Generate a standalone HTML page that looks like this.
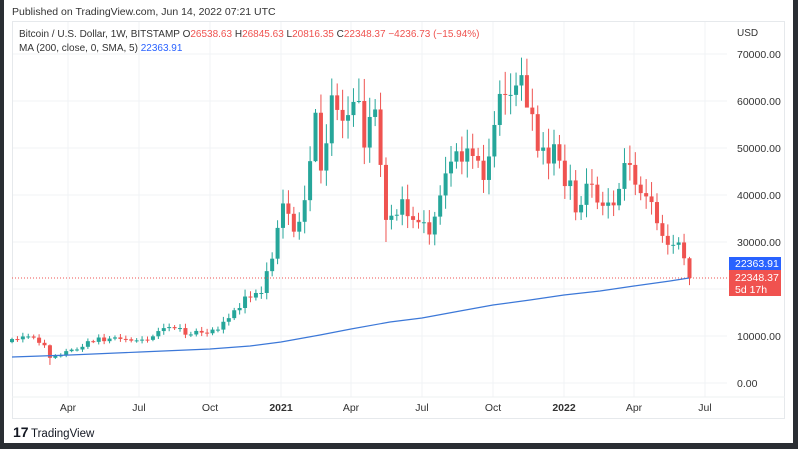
<!DOCTYPE html>
<html><head><meta charset="utf-8"><style>
html,body{margin:0;padding:0;background:#2a2e33;}
#w{position:absolute;left:4px;top:0;width:789px;height:443px;background:#fff;}
svg{position:absolute;left:0;top:0}
text{font-family:"Liberation Sans",sans-serif;}
</style></head><body>
<div id="w"></div>
<svg id="s" width="798" height="449" xmlns="http://www.w3.org/2000/svg"></svg>
<script>
var C=[9350,9300,9900,9900,9650,8550,8030,5360,5830,5880,6780,7100,7130,7700,8900,8750,9680,8900,9450,9700,9380,9300,9010,9070,9230,9180,9930,11050,11680,11900,11650,11690,10280,10330,11080,10720,10580,11360,11360,13030,13800,15480,15960,18400,18180,19150,19150,23800,26450,33000,
38200,36000,32200,34300,38900,47200,57500,45200,51000,61200,58100,55800,57000,59800,60000,50100,56600,58200,46400,34700,35600,35800,39100,35500,34700,34200,34200,31600,35400,39900,44600,47100,49300,47100,49900,48300,47300,43200,48200,54900,61500,61300,61300,63300,65500,58600,57200,49400,50100,46700,50800,47300,
41900,43100,36300,37900,42400,42200,38400,37700,38400,37800,41300,46800,46400,42200,40400,39700,38500,34000,31300,29400,29400,29900,26538,22348];
var O=[8700];for(var i=1;i<C.length;i++)O.push(C[i-1]);
var ex={7:[8200,3850],56:[58300,47000],64:[64800,59500],69:[48000,30000],78:[36400,29300],95:[69000,62800],62:[61000,52000],125:[26845,20816]};
function Y(v){return 383-v*0.0047}
function X(i){return 12+i*5.42}
var s='';
// grid
var mx=[68,139,210,281,351,422,493,564,634,705];
mx.forEach(function(x){s+='<line x1="'+x+'" y1="21" x2="'+x+'" y2="397" stroke="#f0f3f5"/>'});
for(var v=0;v<=70000;v+=10000){var y=Y(v);s+='<line x1="12" y1="'+y+'" x2="727" y2="'+y+'" stroke="#f0f3f5"/>';
s+='<text x="737" y="'+(y+4)+'" font-size="10.5" fill="#333">'+v+'.00</text>';}
s+='<rect x="12.5" y="21.5" width="772" height="397" fill="none" stroke="#e6e9ec"/>';
s+='<line x1="12" y1="397" x2="785" y2="397" stroke="#eef0f2"/>';
var ml=['Apr','Jul','Oct','2021','Apr','Jul','Oct','2022','Apr','Jul'];
ml.forEach(function(t,k){s+='<text x="'+mx[k]+'" y="411" font-size="10.5" text-anchor="middle" fill="#333"'+(t.length==4?' font-weight="bold"':'')+'>'+t+'</text>'});
// candles
for(var i=0;i<C.length;i++){var o=O[i],c=C[i],hi=Math.max(o,c),lo=Math.min(o,c);
var r=0.03+0.05*Math.abs(Math.sin(i*2.3));var h=hi*(1+r),l=lo*(1-r*0.9);
if(ex[i]){h=ex[i][0];l=ex[i][1];}
var col=c>=o?'#26a69a':'#ef5350';var x=X(i);
s+='<line x1="'+x+'" y1="'+Y(h)+'" x2="'+x+'" y2="'+Y(l)+'" stroke="'+col+'" stroke-width="1"/>';
var yt=Y(hi),hh=Math.max(1,Y(lo)-yt);
s+='<rect x="'+(x-2)+'" y="'+yt+'" width="4" height="'+hh+'" fill="'+col+'"/>';}
// price line
s+='<line x1="12" y1="'+Y(22348)+'" x2="727" y2="'+Y(22348)+'" stroke="#ef5350" stroke-dasharray="1,2" stroke-width="1"/>';
// MA
var ma=[[12,357],[70,355],[140,352],[210,349],[250,346],[281,342],[320,335],[351,329],[390,322],[422,318],[460,311],[493,305],[530,300],[564,295],[600,291],[634,286],[670,281],[689,278]];
s+='<polyline fill="none" stroke="#3c78d8" stroke-width="1.2" points="'+ma.map(function(p){return p.join(',')}).join(' ')+'"/>';
// labels
s+='<rect x="729" y="257" width="52" height="13" fill="#2962ff"/><text x="735" y="267" font-size="10.5" fill="#fff">22363.91</text>';
s+='<rect x="729" y="270" width="52" height="26" fill="#f0524f"/><text x="735" y="281" font-size="10.5" fill="#fff">22348.37</text><text x="735" y="293" font-size="10.5" fill="#fff">5d 17h</text>';
s+='<text x="737" y="36" font-size="10" fill="#333">USD</text>';
s+='<text x="12" y="15" font-size="10.5" fill="#333">Published on TradingView.com, Jun 14, 2022 07:21 UTC</text>';
s+='<text x="19" y="37" font-size="10" fill="#333">Bitcoin / U.S. Dollar, 1W, BITSTAMP  O<tspan fill="#ef5350">26538.63</tspan>  H<tspan fill="#ef5350">26845.63</tspan>  L<tspan fill="#ef5350">20816.35</tspan>  C<tspan fill="#ef5350">22348.37  −4236.73 (−15.94%)</tspan></text>';
s+='<text x="19" y="51" font-size="10" fill="#333">MA (200, close, 0, SMA, 5)  <tspan fill="#2962ff">22363.91</tspan></text>';
s+='<text x="13" y="437" font-size="14" font-weight="bold" fill="#131722">17</text><text x="31" y="437" font-size="11.5" fill="#131722">TradingView</text>';
document.getElementById('s').innerHTML=s;
</script>
</body></html>
